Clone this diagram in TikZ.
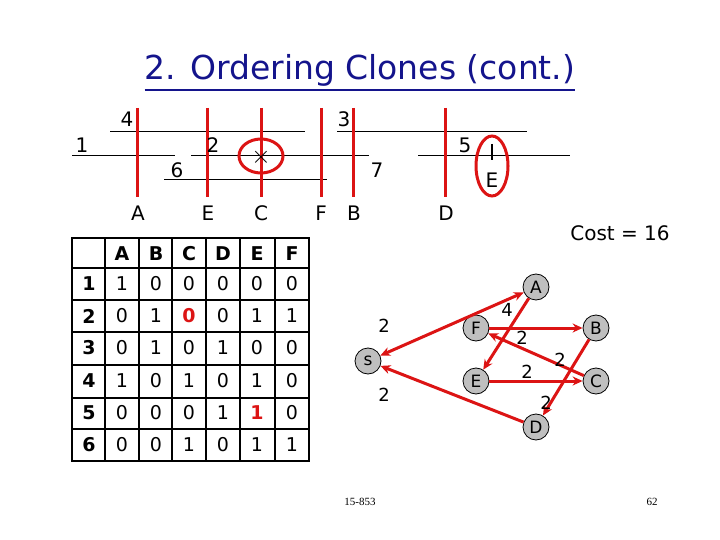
\documentclass[tikz,border=0pt]{standalone}
\usepackage{fontspec}
\setmainfont{DejaVu Sans}
\newfontfamily\serifft{Liberation Serif}
\usetikzlibrary{arrows.meta}
\definecolor{rd}{RGB}{220,20,20}
\definecolor{ttl}{RGB}{20,20,140}
\begin{document}
\begin{tikzpicture}[x=1pt,y=-1pt,
  vl/.style={draw=rd,line width=3pt},
  hl/.style={draw=black,line width=1pt},
  lab/.style={font=\fontsize{20}{20}\selectfont,inner sep=0},
  tx/.style={font=\fontsize{19}{19}\selectfont,inner sep=0},
  bx/.style={font=\fontsize{19}{19}\selectfont\bfseries,inner sep=0},
  gn/.style={circle,draw=black,line width=0.8pt,fill=black!25,minimum size=26pt,inner sep=0,font=\fontsize{17}{17}\selectfont},
  ar/.style={draw=rd,line width=3pt,-{Stealth[length=10pt,width=9pt]}},
  wl/.style={font=\fontsize{18}{18}\selectfont,inner sep=0}]
\useasboundingbox (0,0) rectangle (720,540);
% title
\node[font=\fontsize{33}{33}\selectfont,text=ttl,inner sep=0] (title) at (360,70) {2. Ordering Clones (cont.)};
\draw[ttl,line width=1.5pt] (title.south west)++(0,4) -- ([yshift=-4pt]title.south east);
% horizontal lines
\draw[hl] (110,132)--(305,132);
\draw[hl] (337,132)--(527,132);
\draw[hl] (72,156)--(175,156);
\draw[hl] (191,156)--(369,156);
\draw[hl] (418,156)--(570,156);
\draw[hl] (164,180)--(327,180);
% vertical red lines
\foreach \x in {137,207,261,321,353,445} \draw[vl] (\x,108)--(\x,197);
\node[lab] (l4) at (127,119) {4};
\node[lab] (l1) at (82,145) {1};
\node[lab] (l2) at (213,145) {2};
\node[lab] (l6) at (177,170) {6};
\node[lab] (l3) at (344,119) {3};
\node[lab] (l7) at (377,170) {7};
\node[lab] (l5) at (465,145) {5};
\node[lab] (bA) at (138,213) {A};
\node[lab] (bE) at (208,213) {E};
\node[lab] (bC) at (261,213) {C};
\node[lab] (bF) at (321,213) {F};
\node[lab] (bB) at (354,213) {B};
\node[lab] (bD) at (446,213) {D};
\node[lab,font=\fontsize{26}{26}\selectfont] (xx) at (261,157) {$\times$};
\draw[rd,line width=3pt] (261,156) ellipse [x radius=22, y radius=17];
\draw[black,line width=1.2pt] (492,144)--(492,160);
\node[lab] (eE) at (492,180) {E};
\draw[rd,line width=3pt] (492,166) ellipse [x radius=16, y radius=30];
\node[lab] (cost) at (620,233) {Cost = 16};
% table
\draw[line width=2.2pt] (72,238) rectangle (309,461);
\foreach \x in {105,139,172,206,240,275} \draw[line width=1.5pt] (\x,238)--(\x,461);
\foreach \y in {268,300,332,365,398,429} \draw[line width=1.5pt] (72,\y)--(309,\y);
\foreach \c/\x in {A/122,B/156,C/189,D/223,E/257,F/292} \node[bx] (h\c) at (\x,254) {\c};
\foreach \r/\y in {1/284,2/316,3/348,4/381,5/413,6/445} \node[bx] (r\r) at (89,\y) {\r};
\foreach \y/\a/\b/\c/\d/\e/\f in {284/1/0/0/0/0/0, 316/0/1/{\textcolor{rd}{\bfseries 0}}/0/1/1, 348/0/1/0/1/0/0, 381/1/0/1/0/1/0, 413/0/0/0/1/{\textcolor{rd}{\bfseries 1}}/0, 445/0/0/1/0/1/1}{
  \node[tx] at (122,\y) {\a}; \node[tx] at (156,\y) {\b}; \node[tx] at (189,\y) {\c};
  \node[tx] at (223,\y) {\d}; \node[tx] at (257,\y) {\e}; \node[tx] at (292,\y) {\f};}
% graph
\node[gn] (s) at (368,361) {s};
\node[gn] (A) at (536,287) {A};
\node[gn] (F) at (476,328) {F};
\node[gn] (B) at (596,328) {B};
\node[gn] (E) at (476,381) {E};
\node[gn] (C) at (596,381) {C};
\node[gn] (D) at (536,427) {D};
\draw[ar,{Stealth[length=10pt,width=9pt]}-{Stealth[length=10pt,width=9pt]}] (s)--(A);
\draw[ar] (D)--(s);
\draw[ar] (A)--(E);
\draw[ar] (F)--(B);
\draw[ar] (C)--(F);
\draw[ar] (E)--(C);
\draw[ar] (B)--(D);
\node[wl] (w1) at (384,326) {2};
\node[wl] (w2) at (384,395) {2};
\node[wl] (w3) at (507,310) {4};
\node[wl] (w4) at (522,338) {2};
\node[wl] (w5) at (560,360) {2};
\node[wl] (w6) at (527,372) {2};
\node[wl] (w7) at (546,403) {2};
% footer
\node[font=\serifft\fontsize{11}{11}\selectfont,inner sep=0] (f1) at (360,502) {15-853};
\node[font=\serifft\fontsize{11}{11}\selectfont,inner sep=0] (f2) at (652,502) {62};
\end{tikzpicture}
\end{document}
